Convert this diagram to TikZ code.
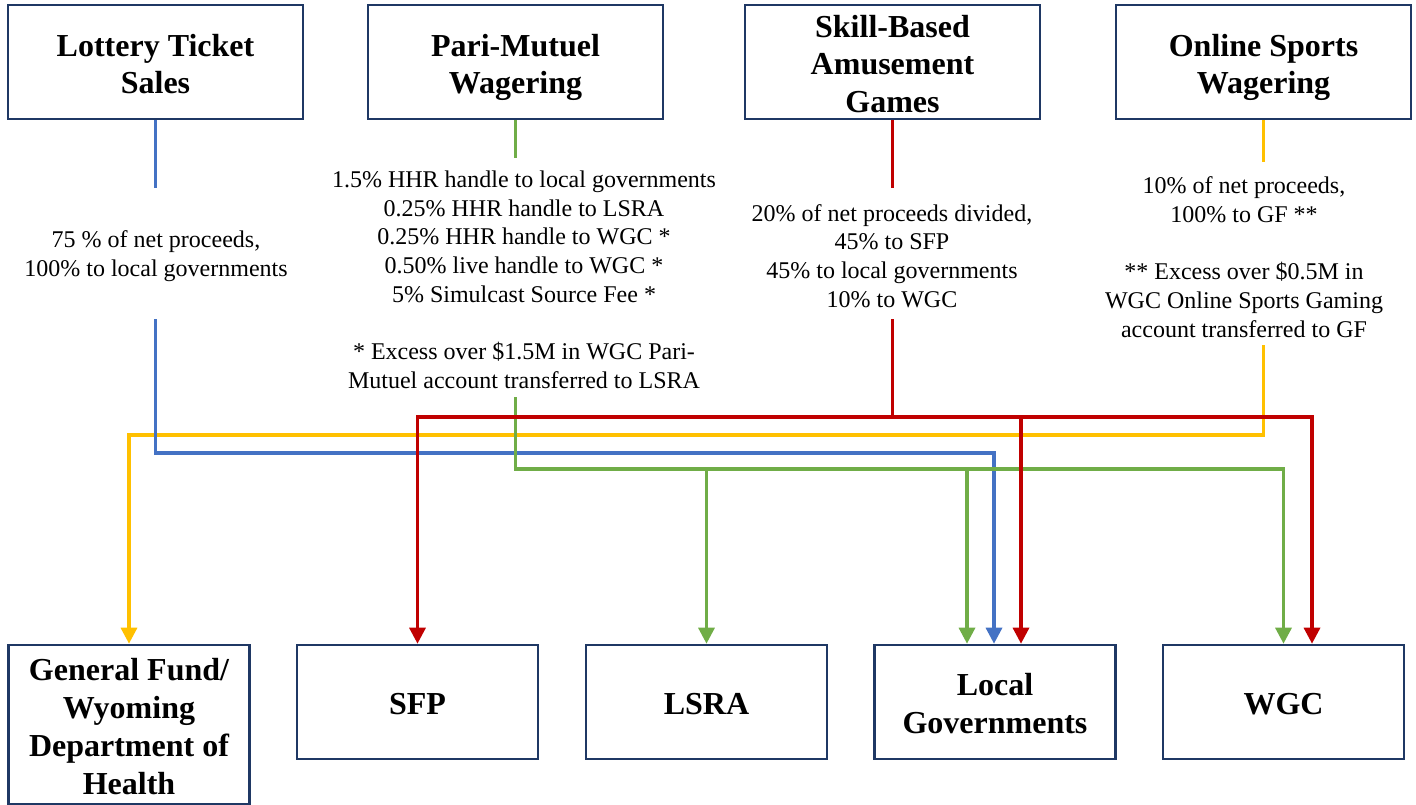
\documentclass[tikz,border=0pt]{standalone}
\usepackage{fontspec}
\setmainfont{Liberation Serif}
\usetikzlibrary{arrows.meta}

\definecolor{boxnavy}{HTML}{1F3864}
\definecolor{flowblue}{HTML}{4472C4}
\definecolor{flowgreen}{HTML}{70AD47}
\definecolor{flowred}{HTML}{C00000}
\definecolor{flowyellow}{HTML}{FFC000}

% top and bottom struts for box titles
\newcommand{\topstrut}{\rule{0pt}{37pt}}
\newcommand{\botstrut}{\rule[-11.25pt]{0pt}{11.25pt}}

\begin{document}
\begin{tikzpicture}[x=1pt, y=-1pt,
    srcbox/.style={draw=boxnavy, line width=2.6pt, minimum width=295pt, minimum height=114pt,
        align=center, font=\fontsize{32}{37.5}\selectfont\bfseries, inner sep=0pt},
    dstbox/.style={draw=boxnavy, line width=2.6pt, minimum width=241pt, minimum height=114pt,
        align=center, font=\fontsize{32}{38}\selectfont\bfseries, inner sep=0pt},
    note/.style={align=center, font=\fontsize{24}{28.7}\selectfont, inner sep=0pt},
    flow/.style={line width=3.3pt},
    tip/.style={-{Triangle[width=16pt,length=16pt]}}]
    \useasboundingbox (0,0) rectangle (1416,805);

    % Sources
    \node[srcbox] (lot) at (155.5, 62) {\topstrut Lottery Ticket\\Sales\botstrut};
    \node[srcbox] (pari) at (515.5, 62) {\topstrut Pari-Mutuel\\Wagering\botstrut};
    \node[srcbox] (skill) at (892.5, 62) {\rule{0pt}{26pt}Skill-Based\\Amusement\\Games};
    \node[srcbox] (online) at (1263.5, 62) {\topstrut Online Sports\\Wagering\botstrut};

    % Notes
    \node[note, minimum height=131pt] (lottxt) at (156, 253.5)
        {\rule{0pt}{22pt}75 \% of net proceeds,\\100\% to local governments};
    \node[note, minimum height=239pt] (paritxt) at (524, 277.5)
        {\rule{0pt}{21pt}1.5\% HHR handle to local governments\\0.25\% HHR handle to LSRA\\
         0.25\% HHR handle to WGC *\\0.50\% live handle to WGC *\\
         5\% Simulcast Source Fee *\\[28.7pt]
         * Excess over \$1.5M in WGC Pari-\\Mutuel account transferred to LSRA};
    \node[note, minimum height=131pt] (skilltxt) at (892, 253.5)
        {\rule{0pt}{22pt}20\% of net proceeds divided,\\45\% to SFP\\45\% to local governments\\10\% to WGC};
    \node[note, minimum height=183pt] (onlinetxt) at (1244, 253.5)
        {\rule{0pt}{24pt}10\% of net proceeds,\\100\% to GF **\\[28.7pt]
         ** Excess over \$0.5M in\\WGC Online Sports Gaming\\account transferred to GF};

    % Destinations
    \node[dstbox, minimum height=159pt] (gf) at (129, 724.5)
        {\rule{0pt}{27pt}General Fund/\\Wyoming\\Department of\\Health};
    \node[dstbox] (sfp) at (417.5, 702) {\topstrut SFP\botstrut};
    \node[dstbox] (lsra) at (706.5, 702) {\topstrut LSRA\botstrut};
    \node[dstbox] (local) at (995, 702) {\topstrut Local\\Governments\botstrut};
    \node[dstbox] (wgc) at (1283.5, 702) {\topstrut WGC\botstrut};

    % Rails
    \coordinate (redY) at (0, 417);
    \coordinate (yellowY) at (0, 435);
    \coordinate (blueY) at (0, 453);
    \coordinate (greenY) at (0, 469);

    % 1) yellow: online sports wagering
    \draw[flow, flowyellow] (online.south) -- (online.south |- onlinetxt.north);
    \draw[flow, flowyellow, tip] (online.south |- onlinetxt.south) |- (gf.north |- yellowY) -- (gf.north);

    % 2) blue: lottery
    \draw[flow, flowblue] (lot.south) -- (lot.south |- lottxt.north);
    \draw[flow, flowblue, tip] (lot.south |- lottxt.south) |- ([xshift=-1pt]local.north |- blueY)
        -- ([xshift=-1pt]local.north);

    % 3) green: pari-mutuel
    \draw[flow, flowgreen] (pari.south) -- (pari.south |- paritxt.north);
    \draw[flow, flowgreen, tip] (pari.south |- paritxt.south) |- (wgc.north |- greenY) -- (wgc.north);
    \draw[flow, flowgreen, tip] (lsra.north |- greenY) -- (lsra.north);
    \draw[flow, flowgreen, tip] ([xshift=-28pt]local.north |- greenY) -- ([xshift=-28pt]local.north);

    % 4) red: skill-based games
    \draw[flow, flowred] (skill.south) -- (skill.south |- skilltxt.north);
    \draw[flow, flowred] (skill.south |- skilltxt.south) -- (skill.south |- redY);
    \draw[flow, flowred, {Triangle[width=16pt,length=16pt]}-{Triangle[width=16pt,length=16pt]}]
        (sfp.north) |- ([xshift=28.5pt]wgc.north |- redY) -- ([xshift=28.5pt]wgc.north);
    \draw[flow, flowred, tip] ([xshift=26pt]local.north |- redY) -- ([xshift=26pt]local.north);
\end{tikzpicture}
\end{document}
